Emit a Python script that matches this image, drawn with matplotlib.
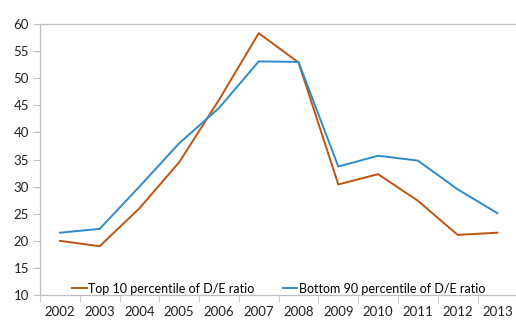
import matplotlib
matplotlib.use("Agg")
import matplotlib.pyplot as plt

years = ["2002", "2003", "2004", "2005", "2006", "2007", "2008", "2009", "2010", "2011", "2012", "2013"]
top10 = [20.0, 19.0, 26.0, 34.5, 46.0, 58.3, 52.9, 30.4, 32.3, 27.4, 21.1, 21.5]
bottom90 = [21.5, 22.2, 30.0, 38.0, 44.5, 53.1, 53.0, 33.7, 35.7, 34.8, 29.5, 25.1]
series_names = ["Top 10 percentile of D/E ratio", "Bottom 90 percentile of D/E ratio"]

plt.rcParams['font.family'] = ['Lato', 'DejaVu Sans']

fig = plt.figure(figsize=(5.16, 3.2), dpi=100)
ax = fig.add_axes([0.0775, 0.078, 0.925, 0.847])

x = list(range(len(years)))
ax.plot(x, top10, color="#C0530F", lw=1.4, label=series_names[0])
ax.plot(x, bottom90, color="#2E8BCB", lw=1.4, label=series_names[1])

ax.set_xlim(-0.5, len(years) - 0.5)
ax.set_ylim(10, 60)
ax.set_yticks(range(10, 61, 5))
ax.set_xticks(x)
ax.set_xticklabels(years)
ax.set_xticks([i - 0.5 for i in range(len(years) + 1)], minor=True)
ax.tick_params(axis='x', which='major', length=0, pad=8, labelsize=9.5, colors='#222222')
ax.tick_params(axis='x', which='minor', length=5, color='#BFBFBF')
ax.tick_params(axis='y', length=5, color='#BFBFBF', labelsize=9.5, labelcolor='#222222', pad=3)

for s in ['left', 'bottom', 'top']:
    ax.spines[s].set_color('#BFBFBF')
    ax.spines[s].set_linewidth(0.9)
ax.spines['right'].set_visible(False)

ax.legend(loc='lower center', bbox_to_anchor=(0.5, -0.04), ncol=2, frameon=False,
          fontsize=9, handlelength=1.15, handletextpad=0.1, columnspacing=2.3)

fig.savefig("out.png", dpi=100)
